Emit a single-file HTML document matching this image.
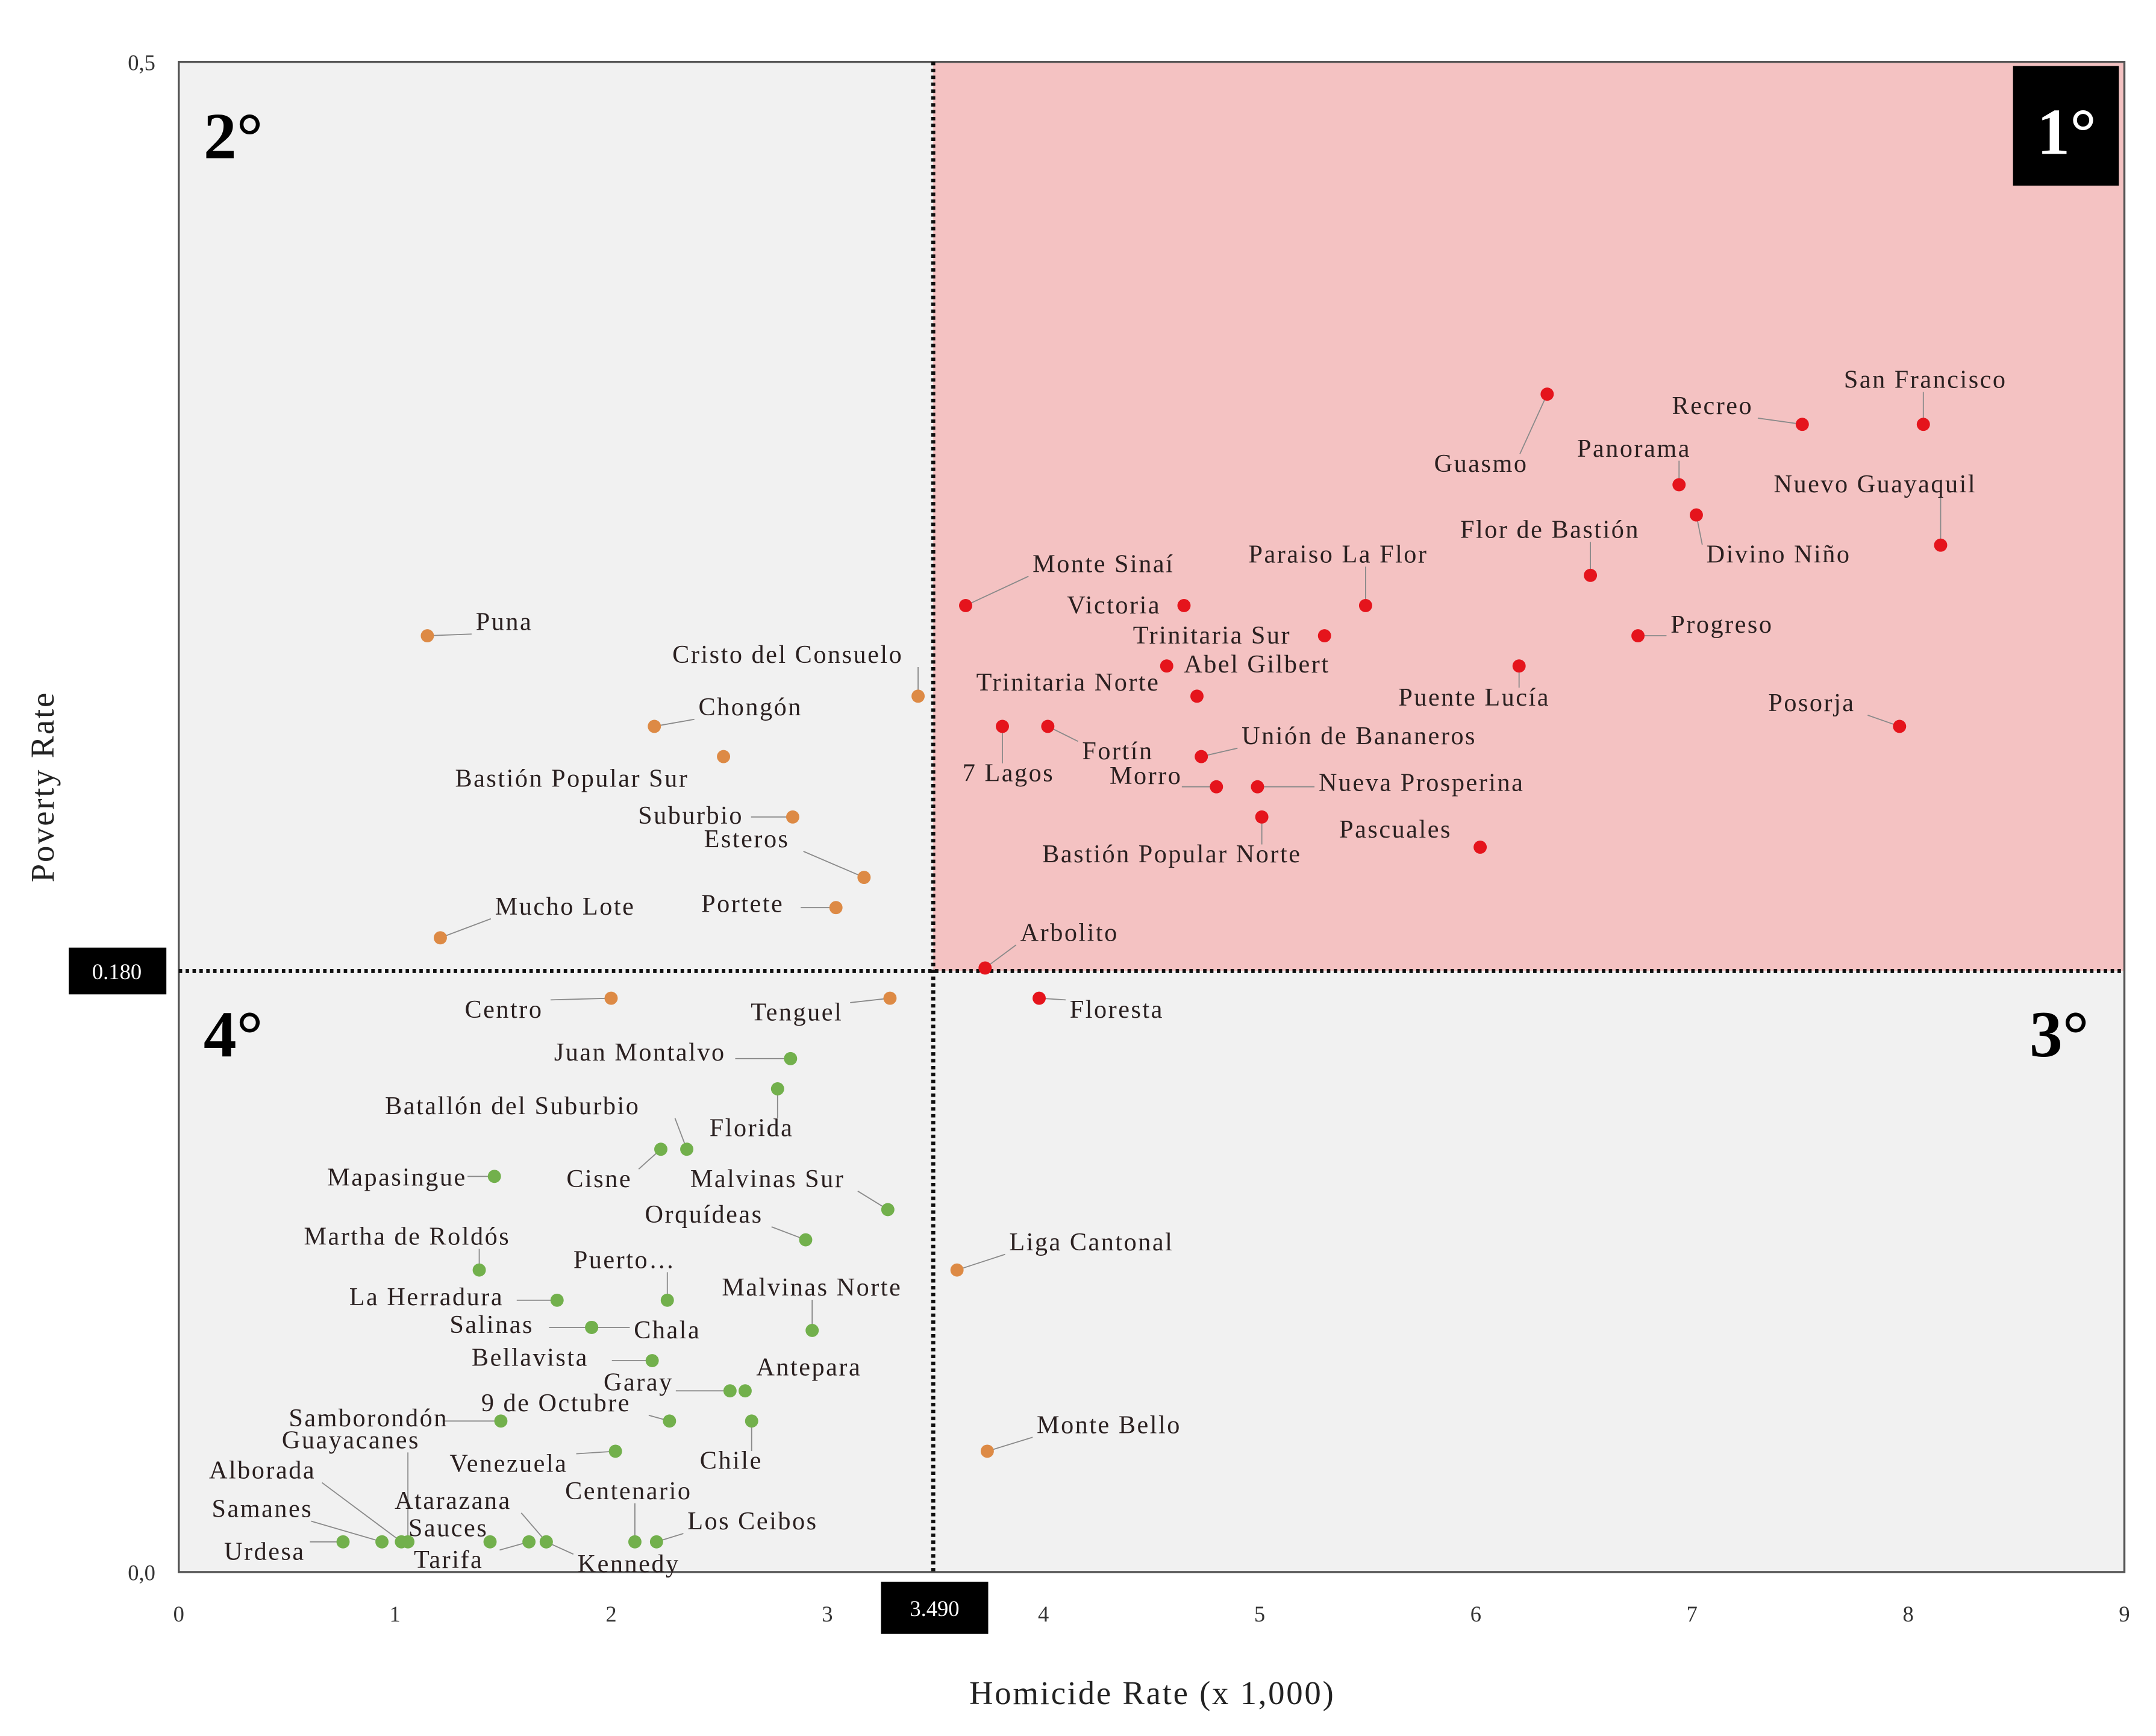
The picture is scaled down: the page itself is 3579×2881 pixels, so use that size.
<!DOCTYPE html>
<html><head><meta charset="utf-8"><style>
html,body{margin:0;padding:0;background:#fff;}
svg{display:block;}
text{font-family:"Liberation Serif",serif;}
</style></head><body>
<svg id="chart" width="3579" height="2881" viewBox="0 0 3579 2881" xmlns="http://www.w3.org/2000/svg">
<g id="root" transform="scale(2.28253)"></g>
</svg>
<script>
const names = ["Guasmo","Recreo","San Francisco","Panorama","Divino Niño","Nuevo Guayaquil","Flor de Bastión","Monte Sinaí","Victoria","Paraiso La Flor","Trinitaria Sur","Progreso","Abel Gilbert","Puente Lucía","Trinitaria Norte","7 Lagos","Fortín","Posorja","Unión de Bananeros","Morro","Nueva Prosperina","Bastión Popular Norte","Pascuales","Arbolito","Floresta",
"Puna","Cristo del Consuelo","Chongón","Bastión Popular Sur","Suburbio","Esteros","Portete","Mucho Lote","Centro","Tenguel","Liga Cantonal","Monte Bello",
"Juan Montalvo","Florida","Cisne","Batallón del Suburbio","Mapasingue","Malvinas Sur","Orquídeas","Martha de Roldós","Puerto…","La Herradura","Salinas","Chala","Malvinas Norte","Bellavista","Garay","Antepara","Samborondón","9 de Octubre","Chile","Venezuela","Urdesa","Samanes","Alborada","Guayacanes","Sauces","Tarifa","Atarazana","Kennedy","Centenario","Los Ceibos"];
const homicide = [6.33,7.51,8.07,6.94,7.02,8.15,6.53,3.64,4.65,5.49,5.30,6.75,4.57,6.20,4.71,3.81,4.02,7.96,4.73,4.80,4.99,5.01,6.02,3.73,3.98,
1.15,3.42,2.20,2.52,2.84,3.17,3.04,1.21,2.00,3.29,3.60,3.74,
2.83,2.77,2.23,2.35,1.46,3.28,2.90,1.39,2.26,1.75,1.91,1.91,2.93,2.19,2.55,2.62,1.49,2.27,2.65,2.02,0.76,0.94,1.03,1.06,1.44,1.62,1.70,1.70,2.11,2.21];
const poverty = [0.390,0.380,0.380,0.360,0.350,0.340,0.330,0.320,0.320,0.320,0.310,0.310,0.300,0.300,0.290,0.280,0.280,0.280,0.270,0.260,0.260,0.250,0.240,0.200,0.190,
0.310,0.290,0.280,0.270,0.250,0.230,0.220,0.210,0.190,0.190,0.100,0.040,
0.170,0.160,0.140,0.140,0.131,0.120,0.110,0.100,0.090,0.090,0.081,0.081,0.080,0.070,0.060,0.060,0.050,0.050,0.050,0.040,0.010,0.010,0.010,0.010,0.010,0.010,0.010,0.010,0.010,0.010];
const groups = ["r","r","r","r","r","r","r","r","r","r","r","r","r","r","r","r","r","r","r","r","r","r","r","r","r",
"o","o","o","o","o","o","o","o","o","o","o","o",
"g","g","g","g","g","g","g","g","g","g","g","g","g","g","g","g","g","g","g","g","g","g","g","g","g","g","g","g","g","g"];
const xTicks = [0,1,2,3,4,5,6,7,8,9];
const yTickLabels = ["0,0","0,5"];
const yTickValues = [0,0.5];
const xThreshold = 3.49, xThresholdLabel = "3.490";
const yThreshold = 0.199, yThresholdLabel = "0.180";

const labelPos = {
"Guasmo":[1043,343],"Recreo":[1216,301],"San Francisco":[1341,282],"Panorama":[1147,332],"Divino Niño":[1241,409],"Nuevo Guayaquil":[1290,358],"Flor de Bastión":[1062,391],"Monte Sinaí":[751,416],"Victoria":[776,446],"Paraiso La Flor":[908,409],"Trinitaria Sur":[824,468],"Progreso":[1215,460],"Abel Gilbert":[861,489],"Puente Lucía":[1017,513],"Trinitaria Norte":[710,502],"7 Lagos":[700,568],"Fortín":[787,552],"Posorja":[1286,517],"Unión de Bananeros":[903,541],"Morro":[807,570],"Nueva Prosperina":[959,575],"Bastión Popular Norte":[758,627],"Pascuales":[974,609],"Arbolito":[742,684],"Floresta":[778,740],
"Puna":[346,458],"Cristo del Consuelo":[489,482],"Chongón":[508,520],"Bastión Popular Sur":[331,572],"Suburbio":[464,599],"Esteros":[512,616],"Portete":[510,663],"Mucho Lote":[360,665],"Centro":[338,740],"Tenguel":[546,742],"Liga Cantonal":[734,909],"Monte Bello":[754,1042],
"Juan Montalvo":[403,771],"Florida":[516,826],"Cisne":[412,863],"Batallón del Suburbio":[280,810],"Mapasingue":[238,862],"Malvinas Sur":[502,863],"Orquídeas":[469,889],"Martha de Roldós":[221,905],"Puerto…":[417,922],"La Herradura":[254,949],"Salinas":[327,969],"Chala":[461,973],"Malvinas Norte":[525,942],"Bellavista":[343,993],"Garay":[439,1011],"Antepara":[550,1000],"Samborondón":[210,1037],"9 de Octubre":[350,1026],"Chile":[509,1068],"Venezuela":[327,1070],"Urdesa":[163,1134],"Samanes":[154,1103],"Alborada":[152,1075],"Guayacanes":[205,1053],"Sauces":[297,1117],"Tarifa":[301,1140],"Atarazana":[287,1097],"Kennedy":[420,1143],"Centenario":[411,1090],"Los Ceibos":[500,1112]};

const NS="http://www.w3.org/2000/svg";
const root=document.getElementById('root');
const L=130,R=1545,T=45,B=1143,XMAX=9,YMAX=0.5;
const sx=v=>L+v/XMAX*(R-L);
const sy=v=>B-v/YMAX*(B-T);
function mk(tag,attrs,parent){const e=document.createElementNS(NS,tag);for(const k in attrs)e.setAttribute(k,attrs[k]);(parent||root).appendChild(e);return e;}

let e;
e=mk('rect',{x:L,y:T,width:R-L,height:B-T,fill:'#f1f1f1'});


e=mk('rect',{x:sx(xThreshold),y:T,width:R-sx(xThreshold),height:sy(yThreshold)-T,fill:'#f4c2c2'});


e=mk('rect',{x:L,y:T,width:R-L,height:B-T,fill:'none',stroke:'#555',"stroke-width":1.5});



e=mk('line',{x1:sx(xThreshold),x2:sx(xThreshold),y1:T,y2:B,stroke:'#111',"stroke-width":3,"stroke-dasharray":"2.5 2.5"});


e=mk('line',{x1:L,x2:R,y1:sy(yThreshold),y2:sy(yThreshold),stroke:'#111',"stroke-width":3,"stroke-dasharray":"2.5 2.5"});



e=mk('text',{x:148,y:115,"font-size":48,"font-weight":"bold",fill:'#000'});e.textContent='2°';


e=mk('text',{x:148,y:768,"font-size":48,"font-weight":"bold",fill:'#000'});e.textContent='4°';


e=mk('text',{x:1476,y:768,"font-size":48,"font-weight":"bold",fill:'#000'});e.textContent='3°';


e=mk('rect',{x:1464,y:48,width:77,height:87,fill:'#000'});


e=mk('text',{x:1503,y:112,"font-size":48,"font-weight":"bold",fill:'#fff',"text-anchor":"middle"});e.textContent='1°';



xTicks.forEach(t=>{const tx=mk('text',{x:sx(t),y:1179,"font-size":16,"text-anchor":"middle",fill:'#333'});tx.textContent=String(t);

});
yTickValues.forEach((v,i)=>{const tx=mk('text',{x:113,y:sy(v)+6,"font-size":16,"text-anchor":"end",fill:'#333'});tx.textContent=yTickLabels[i];

});

e=mk('rect',{x:50,y:sy(yThreshold)-17,width:71,height:34,fill:'#000'});


e=mk('text',{x:85,y:sy(yThreshold)+6,"font-size":16,fill:'#fff',"text-anchor":"middle"});e.textContent=yThresholdLabel;


e=mk('rect',{x:sx(xThreshold)-38,y:1150,width:78,height:38,fill:'#000'});


e=mk('text',{x:sx(xThreshold)+1,y:1175,"font-size":16,fill:'#fff',"text-anchor":"middle"});e.textContent=xThresholdLabel;



e=mk('text',{x:838,y:1239,"font-size":24,"letter-spacing":1.2,"text-anchor":"middle",fill:'#222'});e.textContent='Homicide Rate (x 1,000)';


e=mk('text',{x:0,y:0,"font-size":24,"letter-spacing":1.2,"text-anchor":"middle",fill:'#222',transform:'translate(39,572) rotate(-90)'});e.textContent='Poverty Rate';



const colors={r:'#e5141c',o:'#dd8a45',g:'#72b04c'};
const gL=mk('g',{}),gT=mk('g',{}),gP=mk('g',{});
names.forEach((n,i)=>{
  const px=sx(homicide[i]),py=sy(poverty[i]);
  const lp=labelPos[n];
  if(lp){
    const w=n.length*9.9,x0=lp[0],x1=lp[0]+w,y0=lp[1]-13,y1=lp[1]+3;
    const cx=Math.max(x0-3,Math.min(px,x1+3)),cy=Math.max(y0,Math.min(py,y1));
    const d=Math.hypot(cx-px,cy-py);
    if(d>12){
      const ln=mk('line',{x1:px,y1:py,x2:cx,y2:cy,stroke:'#8a8a8a',"stroke-width":0.8},gL);
      
      
    }
    const t=mk('text',{x:lp[0],y:lp[1],"font-size":18.5,"letter-spacing":1.1,fill:'#2a2020'},gT);t.textContent=n;
    
    
  }
  const c=mk('circle',{cx:px,cy:py,r:4.8,fill:colors[groups[i]]},gP);
  
  
});
</script>
</body></html>
